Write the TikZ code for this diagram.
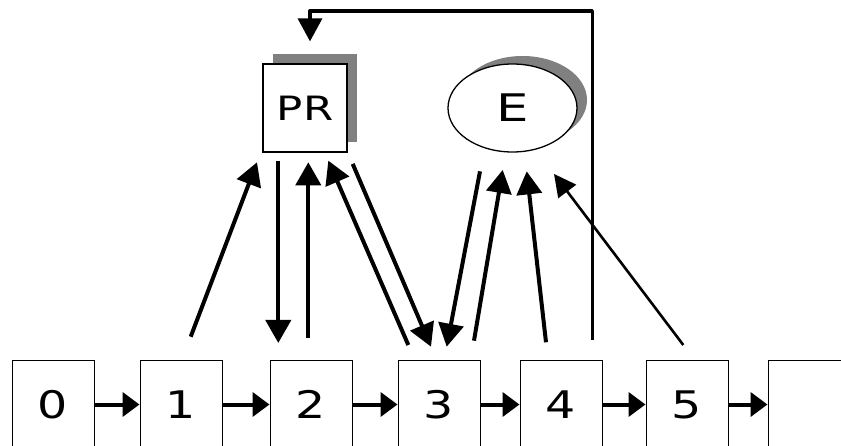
\documentclass[tikz,border=0pt]{standalone}
\usepackage{fontspec}
\setmainfont{DejaVu Sans}
\usetikzlibrary{arrows.meta,shapes.geometric,shadows}
\tikzset{
  cell/.style={draw=black, line width=1pt, fill=white, minimum width=82pt, minimum height=88pt, inner sep=0pt, anchor=north, font=\fontsize{38}{40}\selectfont},
  chain/.style={line width=4pt, -{Triangle[length=17pt,width=24pt]}},
  big/.style={line width=4pt, -{Triangle[length=23pt,width=25pt]}},
  thin/.style={line width=2.6pt, -{Triangle[length=22pt,width=22pt]}},
  fb/.style={line width=3.3pt, line join=round, -{Triangle[length=23pt,width=24pt]}},
  prbox/.style={draw=black, line width=1.2pt, fill=white, minimum width=84pt, minimum height=88pt, inner sep=0pt,
    drop shadow={shadow xshift=10pt, shadow yshift=10pt, fill=black!50, opacity=1}, font=\fontsize{33.5}{36}\selectfont},
  eoval/.style={ellipse, draw=black, line width=1.3pt, fill=white, minimum width=129pt, minimum height=88pt, inner sep=0pt,
    drop shadow={shadow xshift=10pt, shadow yshift=8pt, fill=black!50, opacity=1}, font=\fontsize{38}{40}\selectfont},
}
\newcommand{\wide}[2]{\scalebox{#1}[1]{#2}}
\begin{document}
\begin{tikzpicture}[x=1pt,y=-1pt]
\useasboundingbox (0,0) rectangle (841,446);
\clip (0,0) rectangle (841,446);
\fill[white] (0,0) rectangle (841,446);
% chain
\node[cell] (b0) at (53,360) {\wide{1.25}{0}};
\node[cell] (b1) at (181,360) {\wide{1.25}{1}};
\node[cell] (b2) at (311,360) {\wide{1.25}{2}};
\node[cell] (b3) at (439,360) {\wide{1.25}{3}};
\node[cell] (b4) at (561,360) {\wide{1.25}{4}};
\node[cell] (b5) at (687,360) {\wide{1.25}{5}};
\node[cell] (b6) at (809,360) {};
\foreach \a/\b in {b0/b1,b1/b2,b2/b3,b3/b4,b4/b5,b5/b6}
  \draw[chain] (\a.east) -- (\b.west);
% PR and E
\node[prbox] (pr) at (305,108) {\wide{1.3}{PR}};
\node[eoval] (e) at (512.5,108) {\wide{1.35}{E}};
% arrows to/from PR
\draw[big] ([shift={(9.7,-23.3)}]b1.north) -- ([shift={(-48,9.7)}]pr.south);
\draw[big] ([shift={(-26.7,8)}]pr.south) -- ([shift={(-32.7,-17)}]b2.north);
\draw[big] ([shift={(-2.7,-22)}]b2.north) -- ([shift={(3.3,9.7)}]pr.south);
\draw[big] ([shift={(-30.7,-15)}]b3.north) -- ([shift={(23.3,8)}]pr.south);
\draw[big] ([shift={(47.7,11.3)}]pr.south) -- ([shift={(-8,-13.3)}]b3.north);
% arrows to/from E
\draw[big] ([shift={(-32.5,18.7)}]e.south) -- ([shift={(7.7,-13.3)}]b3.north);
\draw[big] ([shift={(35,-19.3)}]b3.north) -- ([shift={(-9.8,17.3)}]e.south);
\draw[big] ([shift={(-15,-17.7)}]b4.north) -- ([shift={(14.2,18.7)}]e.south);
\draw[thin] ([shift={(-3.7,-15)}]b5.north) -- ([shift={(41.5,21.3)}]e.south);
% feedback
\coordinate (fbtop) at (310,11);
\draw[fb] ([shift={(31.3,-20)}]b4.north) |- (fbtop) -- ([shift={(5,-22)}]pr.north);
\end{tikzpicture}
\end{document}
